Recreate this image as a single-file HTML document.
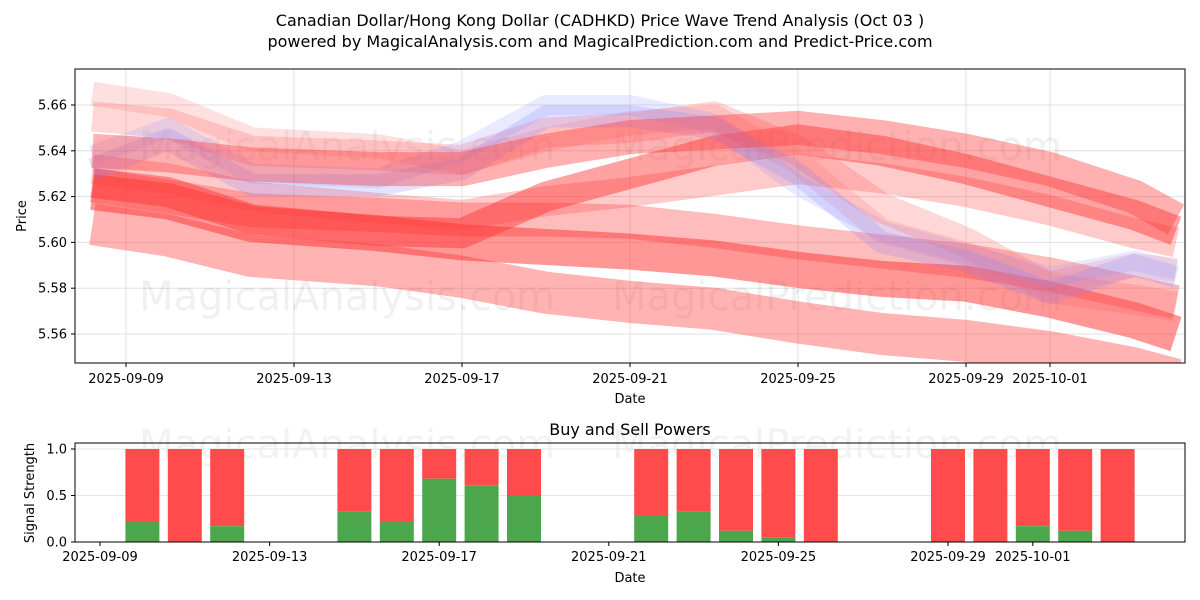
<!DOCTYPE html>
<html><head><meta charset="utf-8"><style>
body{margin:0;background:#fff;}
svg{display:block;font-family:"DejaVu Sans","Liberation Sans",sans-serif;}
</style></head><body>
<svg id="c" width="1200" height="600" viewBox="0 0 1200 600" xmlns="http://www.w3.org/2000/svg">
<text x="600" y="26" text-anchor="middle" font-size="16">Canadian Dollar/Hong Kong Dollar (CADHKD) Price Wave Trend Analysis (Oct 03 )</text>
<text x="600" y="47" text-anchor="middle" font-size="16">powered by MagicalAnalysis.com and MagicalPrediction.com and Predict-Price.com</text>
<g id="topPanel"></g>
<g id="botPanel"></g>
</svg>
<script>
const NS="http://www.w3.org/2000/svg";
// ---- price chart data ----
const tickLabels=["2025-09-09","2025-09-13","2025-09-17","2025-09-21","2025-09-25","2025-09-29","2025-10-01"];
const tickDays=[0,4,8,12,16,20,22];
const priceTicks=[5.56,5.58,5.60,5.62,5.64,5.66];
const bandDays=[-0.8,1,3,6,8,10,12,14,16,18,20,22,24,25];
const band1=[5.608,5.603,5.594,5.590,5.585,5.578,5.574,5.571,5.565,5.560,5.557,5.552,5.545,5.540];
const band2=[5.622,5.618,5.608,5.604,5.600,5.598,5.596,5.593,5.588,5.584,5.582,5.575,5.566,5.560];
const band3=[5.625,5.620,5.614,5.612,5.610,5.610,5.609,5.605,5.600,5.596,5.592,5.586,5.578,5.574];
const band4=[5.626,5.622,5.610,5.605,5.604,5.620,5.630,5.640,5.645,5.640,5.632,5.622,5.612,5.605];
const band5=[5.632,5.628,5.620,5.615,5.612,5.618,5.622,5.627,5.632,5.628,5.622,5.614,5.604,5.600];
const band6=[5.640,5.638,5.634,5.632,5.632,5.640,5.646,5.648,5.650,5.646,5.640,5.632,5.620,5.610];
const band7=[5.665,5.660,5.645,5.642,5.635,5.645,5.652,5.655,5.635,5.605,5.595,5.582,5.590,5.588];
const band8=[5.655,5.652,5.640,5.638,5.636,5.648,5.650,5.655,5.640,5.615,5.600,5.580,5.575,5.572];
const blue1=[5.632,5.645,5.625,5.625,5.632,5.655,5.655,5.650,5.630,5.600,5.592,5.578,5.590,5.585];
const blue2=[5.638,5.650,5.630,5.628,5.640,5.660,5.660,5.652,5.625,5.605,5.595,5.585,5.592,5.588];
// ---- signal data ----
const barDays=[1,2,3,6,7,8,9,10,13,14,15,16,17,20,21,22,23,24];
const buyPower=[0.22,0,0.17,0.33,0.22,0.68,0.61,0.5,0.28,0.33,0.12,0.05,0,0,0,0.17,0.12,0];
const sigTicks=[0,0.5,1.0];

const X=d=>126+42*d, Y=v=>105+(5.66-v)*2290;
const XB=d=>100+42.4*d, YB=v=>542-93*v;
const topG=document.getElementById('topPanel'), botG=document.getElementById('botPanel');
function mk(p,tag,a){const e=document.createElementNS(NS,tag);for(const k in a)e.setAttribute(k,a[k]);p.appendChild(e);return e;}

priceTicks.forEach(v=>{const l=mk(topG,'line',{x1:75,x2:1185,y1:Y(v),y2:Y(v),stroke:'#e0e0e0','stroke-width':1});

});
tickDays.forEach(d=>{const l=mk(topG,'line',{x1:X(d),x2:X(d),y1:69,y2:363,stroke:'#e0e0e0','stroke-width':1});

});
[[347,160],[837,160],[347,310],[837,310]].forEach((p,i)=>{const w=mk(topG,'text',{x:p[0],y:p[1],'text-anchor':'middle','font-size':40,fill:'#000','fill-opacity':0.06});w.textContent=i%2?'MagicalPrediction.com':'MagicalAnalysis.com';

});
[[347,458],[837,458]].forEach((p,i)=>{const w=mk(botG,'text',{x:p[0],y:p[1],'text-anchor':'middle','font-size':40,fill:'#000','fill-opacity':0.05});w.textContent=i?'MagicalPrediction.com':'MagicalAnalysis.com';

});

const bands=[[band1,42,'#ff4040',0.4],[band3,34,'#ff4040',0.35],[band2,36,'#ff3030',0.5],[band5,30,'#ff5050',0.3],[band4,30,'#ff3030',0.45],[band8,30,'#ff6060',0.25],[band7,24,'#ff7070',0.22],[blue1,22,'#8080ff',0.22],[blue2,20,'#9090ff',0.2],[band6,34,'#ff3a3a',0.4]];
const cl=mk(topG,'clipPath',{id:'cp'});mk(cl,'rect',{x:75,y:69,width:1110,height:294});
const bg=mk(topG,'g',{'clip-path':'url(#cp)'});
bands.forEach((b,i)=>{const d=b[0].map((v,j)=>(j?'L':'M')+X(bandDays[j]).toFixed(1)+' '+Y(v).toFixed(1)).join(' ');
const p=mk(bg,'path',{d:d,fill:'none',stroke:b[2],'stroke-opacity':b[3],'stroke-width':b[1],'stroke-linejoin':'round','stroke-linecap':'butt'});

});
mk(topG,'rect',{x:75,y:69,width:1110,height:294,fill:'none',stroke:'#000','stroke-width':1});
priceTicks.forEach(v=>{mk(topG,'line',{x1:71,x2:75,y1:Y(v),y2:Y(v),stroke:'#000'});const w=mk(topG,'text',{x:67,y:Y(v)+4.5,'text-anchor':'end','font-size':13});w.textContent=v.toFixed(2);

});
tickDays.forEach((d,i)=>{mk(topG,'line',{x1:X(d),x2:X(d),y1:363,y2:367,stroke:'#000'});const w=mk(topG,'text',{x:X(d),y:383,'text-anchor':'middle','font-size':13});w.textContent=tickLabels[i];

});
let tx=mk(topG,'text',{x:630,y:403,'text-anchor':'middle','font-size':13});tx.textContent='Date';


tx=mk(topG,'text',{x:26,y:216,'text-anchor':'middle','font-size':13,transform:'rotate(-90 26 216)'});tx.textContent='Price';



tx=mk(botG,'text',{x:630,y:435,'text-anchor':'middle','font-size':16});tx.textContent='Buy and Sell Powers';


mk(botG,'line',{x1:75,x2:1185,y1:YB(0.5),y2:YB(0.5),stroke:'#e6e6e6'});
mk(botG,'line',{x1:75,x2:1185,y1:YB(1),y2:YB(1),stroke:'#e6e6e6'});
barDays.forEach((d,i)=>{const x=XB(d)-17,g=buyPower[i];
const r=mk(botG,'rect',{x:x,y:YB(1),width:34,height:YB(g)-YB(1),fill:'#ff4b4b'});


const r2=mk(botG,'rect',{x:x,y:YB(g),width:34,height:YB(0)-YB(g),fill:'#4ca64c'});

});
mk(botG,'rect',{x:75,y:443,width:1110,height:99,fill:'none',stroke:'#000'});
sigTicks.forEach(v=>{mk(botG,'line',{x1:71,x2:75,y1:YB(v),y2:YB(v),stroke:'#000'});const w=mk(botG,'text',{x:67,y:YB(v)+4.5,'text-anchor':'end','font-size':13});w.textContent=v.toFixed(1);

});
tickDays.forEach((d,i)=>{mk(botG,'line',{x1:XB(d),x2:XB(d),y1:542,y2:546,stroke:'#000'});const w=mk(botG,'text',{x:XB(d),y:561,'text-anchor':'middle','font-size':13});w.textContent=tickLabels[i];

});
tx=mk(botG,'text',{x:630,y:582,'text-anchor':'middle','font-size':13});tx.textContent='Date';


tx=mk(botG,'text',{x:34,y:493,'text-anchor':'middle','font-size':13,transform:'rotate(-90 34 493)'});tx.textContent='Signal Strength';


</script>
</body></html>
